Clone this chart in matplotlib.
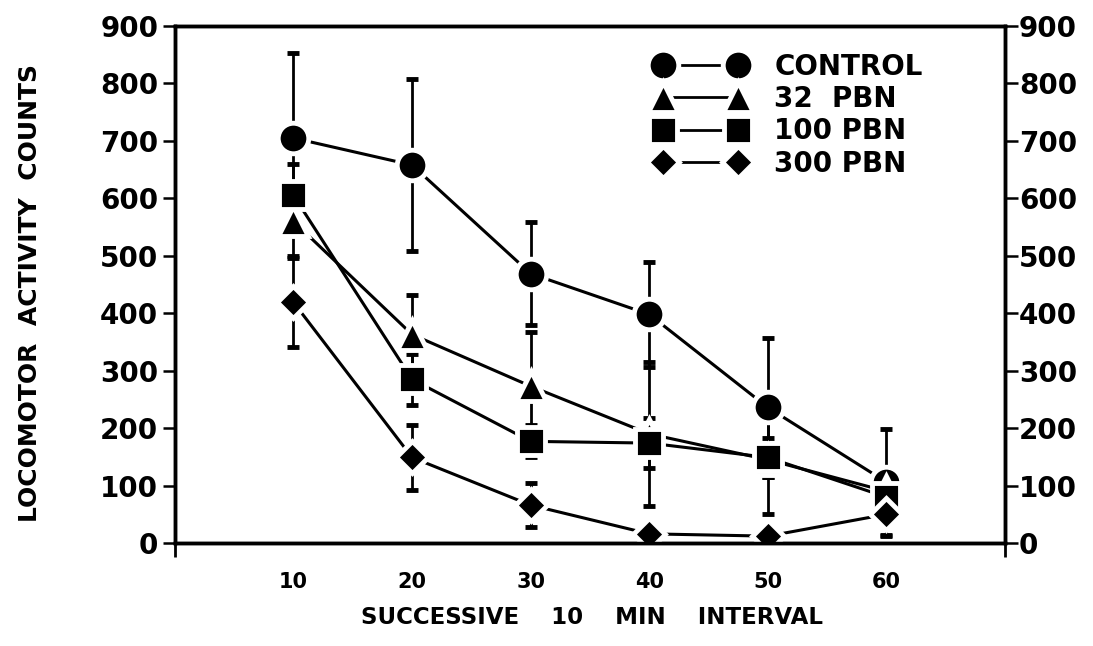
import matplotlib
matplotlib.use("Agg")
import matplotlib.pyplot as plt
from matplotlib.lines import Line2D

# values (mean and error bar half-length)
intervals = [10, 20, 30, 40, 50, 60]
control = [705, 658, 469, 398, 236, 106]
control_err = [148, 149, 90, 92, 121, 92]
pbn32 = [560, 363, 273, 190, 145, 90]
pbn32_err = [60, 68, 95, 125, 95, 40]
pbn100 = [605, 285, 177, 174, 149, 80]
pbn100_err = [55, 44, 28, 43, 34, 30]
pbn300 = [419, 149, 66, 16, 12, 50]
pbn300_err = [77, 56, 38, 12, 10, 38]

labels = ["CONTROL", "32  PBN", "100 PBN", "300 PBN"]
markers = ["o", "^", "s", "D"]
sizes = [22, 21, 20, 16]

plt.rcParams['font.family'] = ['DejaVu Sans']
plt.rcParams['font.weight'] = 'bold'
fig = plt.figure(figsize=(10.93, 6.46), dpi=100)
ax = fig.add_axes([0.160, 0.1594, 0.7595, 0.8003])

handles = []
for y, e, m, ms, lab in zip([control, pbn32, pbn100, pbn300],
                            [control_err, pbn32_err, pbn100_err, pbn300_err],
                            markers, sizes, labels):
    ax.errorbar(intervals, y, yerr=e, color="black", lw=2.2, elinewidth=2,
                capsize=4.5, capthick=2, marker=m, ms=ms, mfc="black",
                mec="white", mew=3.5, zorder=3)
    handles.append(Line2D([], [], color="black", lw=2, marker=m, ms=ms,
                          mfc="black", mec="white", mew=3.5, label=lab))

ax.set_xlim(0, 70)
ax.set_ylim(0, 900)
ax.set_yticks(range(0, 901, 100))
ax.set_xticks(intervals)
ax.set_xticks([0, 70], minor=True)
ax.tick_params(axis="x", which="major", length=0, pad=21, labelsize=15)
ax.tick_params(axis="x", which="minor", length=10, width=2, direction="out")
ax.tick_params(axis="y", length=9, width=1.8, direction="out", labelsize=20, pad=3)
for s in ax.spines.values():
    s.set_linewidth(2.5)

ax2 = ax.twinx()
ax2.set_ylim(0, 900)
ax2.set_yticks(range(0, 901, 100))
ax2.tick_params(axis="y", length=9, width=1.8, direction="out", labelsize=20, pad=1)
for s in ax2.spines.values():
    s.set_linewidth(2.5)

fig.text(30 / 1093, 1 - 293 / 646, "LOCOMOTOR  ACTIVITY  COUNTS", rotation=90,
         fontsize=18, ha="center", va="center")
fig.text(592 / 1093, 1 - 618 / 646, "SUCCESSIVE    10    MIN    INTERVAL",
         fontsize=16.5, ha="center", va="center")

ax.legend(handles=handles, loc="upper left",
          bbox_to_anchor=(655 / 1093, 1 - 53 / 646), bbox_transform=fig.transFigure,
          numpoints=2, handlelength=3.3, handletextpad=1.0, labelspacing=0.15,
          frameon=False, borderpad=0, borderaxespad=0,
          prop={"weight": "bold", "size": 20})

fig.savefig("out.png", dpi=100)
